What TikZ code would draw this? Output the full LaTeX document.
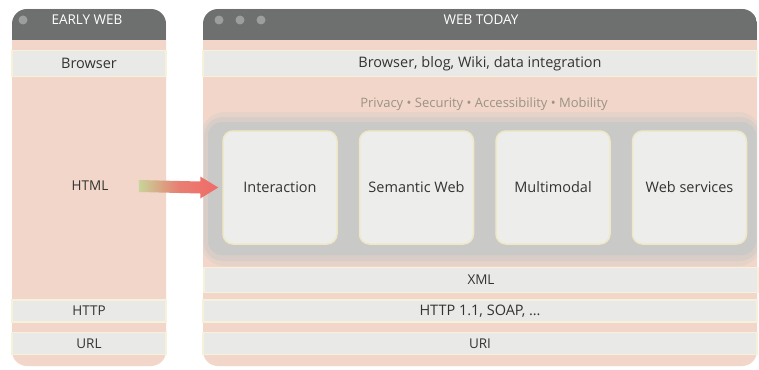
\documentclass[tikz,border=0pt]{standalone}
\usepackage{fontspec}
\setmainfont{Open Sans}
\usetikzlibrary{calc}
\definecolor{hdrc}{HTML}{6E706F}
\definecolor{pinkc}{HTML}{F2D6C9}
\definecolor{bandc}{HTML}{E9EAE7}
\definecolor{creamc}{HTML}{F6F1DA}
\definecolor{txtc}{HTML}{333333}
\definecolor{dotc}{HTML}{9C9E9D}
\definecolor{greyarea}{HTML}{C9C9C7}
\definecolor{boxc}{HTML}{EDEDEB}
\definecolor{boxedge}{HTML}{EFE8C6}
\definecolor{privc}{HTML}{9A9385}
\definecolor{arrg}{HTML}{C8D49A}
\definecolor{arrr}{HTML}{F06A68}
\tikzset{
  band/.style={fill=bandc, draw=creamc, line width=1.2pt, inner sep=0pt, text=txtc, font=\fontsize{13.5}{15}\selectfont},
  bigtext/.style={font=\fontsize{14.5}{16}\selectfont},
  hdrtext/.style={text=white, font=\fontsize{13.5}{15}\selectfont},
  dotnode/.style={circle, fill=dotc, minimum size=9pt, inner sep=0pt},
  techbox/.style={fill=boxc, draw=boxedge, line width=1.5pt, rounded corners=10pt, minimum width=114pt, minimum height=113pt, text=txtc, font=\fontsize{14.5}{16}\selectfont},
  plain/.style={text=txtc, font=\fontsize{13.5}{15}\selectfont}
}
\begin{document}
\begin{tikzpicture}[x=1pt,y=-1pt]
\useasboundingbox (0,0) rectangle (759,369);
\fill[white] (0,0) rectangle (759,369);
% ---------- left panel ----------
\fill[pinkc, rounded corners=15pt] (12,9) rectangle (166,366);
\begin{scope}
  \clip[rounded corners=15pt] (12,9) rectangle (166,366);
  \fill[hdrc] (12,9) rectangle (166,40);
\end{scope}
\node[dotnode] (ldot) at (23,20) {};
\node[hdrtext] (lhead) at (87,20) {EARLY WEB};
\node[band, bigtext, minimum width=154pt, minimum height=26pt] (lbrowser) at (89,63.5) {Browser};
\node[plain] (html) at (90,186) {HTML};
\node[band, minimum width=154pt, minimum height=22pt] (lhttp) at (89,311) {HTTP};
\node[band, minimum width=154pt, minimum height=22pt] (lurl) at (89,343.5) {URL};
% ---------- right panel ----------
\fill[pinkc, rounded corners=15pt] (203,9) rectangle (757,366);
\begin{scope}
  \clip[rounded corners=15pt] (203,9) rectangle (757,366);
  \fill[hdrc] (203,9) rectangle (757,40);
  % blurred grey area
  \fill[greyarea, opacity=0.3, rounded corners=24pt] (201,112) rectangle (762,266);
  \fill[greyarea, opacity=0.45, rounded corners=19pt] (204,117) rectangle (759,261);
  \fill[greyarea, rounded corners=14pt] (208,122) rectangle (756,255);
\end{scope}
\node[dotnode] (rdot1) at (219,20) {};
\node[dotnode] (rdot2) at (240,20) {};
\node[dotnode] (rdot3) at (261,20) {};
\node[hdrtext] (rhead) at (481,20) {WEB TODAY};
\node[band, bigtext, minimum width=554pt, minimum height=26pt] (rbrowser) at (480,63.5) {Browser, blog, Wiki, data integration};
\node[text=privc, font=\fontsize{13}{15}\selectfont] (priv) at (484,104) {Privacy • Security • Accessibility • Mobility};
\node[techbox] (inter) at (280,187.5) {Interaction};
\node[techbox] (sem) at (416.5,187.5) {Semantic Web};
\node[techbox] (multi) at (553,187.5) {Multimodal};
\node[techbox] (ws) at (689.5,187.5) {Web services};
\node[band, minimum width=554pt, minimum height=25pt] (xml) at (481,280) {XML};
\node[band, bigtext, minimum width=554pt, minimum height=22pt] (rhttp) at (480,311) {HTTP 1.1, SOAP, \dots};
\node[band, minimum width=554pt, minimum height=22pt] (uri) at (480,343.5) {URI};
% ---------- arrow ----------
\coordinate (astart) at ($(html.east)+(27,0)$);
\coordinate (atip) at ($(inter.west)+(-4,0)$);
\shade[left color=arrg, right color=arrr, middle color=arrr!80!arrg]
  ($(astart)+(0,-6)$) -- ($(atip)+(-18,-6)$) -- ($(atip)+(-18,-11)$) -- (atip)
  -- ($(atip)+(-18,11)$) -- ($(atip)+(-18,6)$) -- ($(astart)+(0,6)$) -- cycle;
\end{tikzpicture}
\end{document}
